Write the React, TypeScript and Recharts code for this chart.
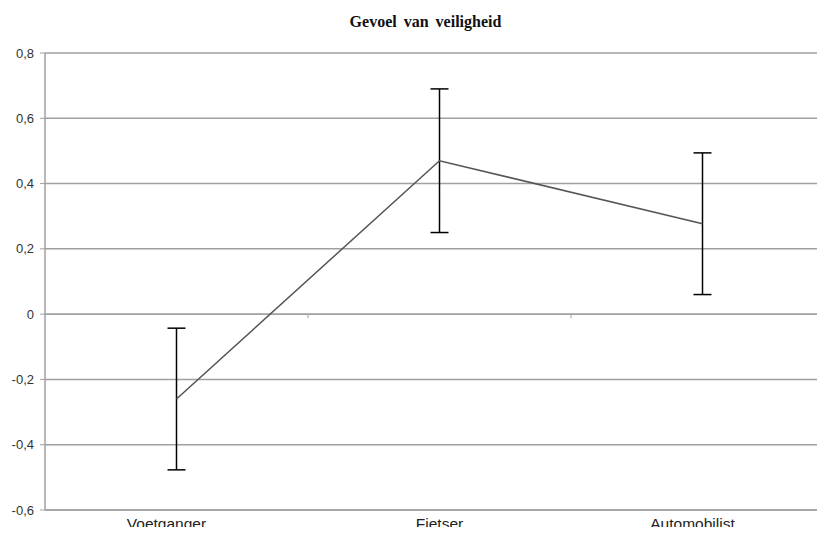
import React from 'react'
import {
  LineChart,
  Line,
  XAxis,
  YAxis,
  CartesianGrid,
  ErrorBar,
  ReferenceLine,
} from 'recharts'

const groups = ['Voetganger', 'Fietser', 'Automobilist']
const means = [-0.26, 0.47, 0.277]
const errors = [0.217, 0.22, 0.217]
const yTicks = [-0.6, -0.4, -0.2, 0, 0.2, 0.4, 0.6, 0.8]

const data = groups.map((name, i) => ({ name, mean: means[i], err: errors[i] }))

// category labels sit slightly left of their points
const labelShift = [-10, 0, -10]

const fmt = (v: number) => (Math.abs(v) < 1e-9 ? '0' : v.toFixed(1).replace('.', ','))

const CategoryTick = ({ x, y, payload, index }: any) => (
  <text
    x={x + (labelShift[index] ?? 0)}
    y={y + 11}
    textAnchor="middle"
    fill="#222"
    fontSize={15.5}
    fontFamily="Liberation Sans, Arial, sans-serif"
  >
    {payload.value}
  </text>
)

// zero line with small marks between categories
const ZeroLine = ({ x1, x2, y1 }: any) => {
  const step = (x2 - x1) / groups.length
  return (
    <g>
      <line x1={x1} x2={x2} y1={y1} y2={y1} stroke="#a0a0a0" strokeWidth={1.5} />
      {groups.slice(1).map((_, i) => (
        <line
          key={i}
          x1={x1 + step * (i + 1)}
          x2={x1 + step * (i + 1)}
          y1={y1}
          y2={y1 + 4}
          stroke="#a0a0a0"
          strokeWidth={1}
        />
      ))}
    </g>
  )
}

export default function App() {
  return (
    <div
      style={{
        position: 'relative',
        margin: -8,
        width: 825,
        height: 535,
        overflow: 'hidden',
        background: '#fff',
      }}
    >
      <div
        style={{
          position: 'absolute',
          left: 0,
          top: 13,
          width: 851,
          textAlign: 'center',
          fontFamily: 'Liberation Serif, Times New Roman, serif',
          fontWeight: 'bold',
          fontSize: 16,
          wordSpacing: 3,
          color: '#111',
        }}
      >
        Gevoel van veiligheid
      </div>
      <LineChart
        width={845}
        height={535}
        data={data}
        margin={{ top: 53, right: 11, bottom: 0, left: 0 }}
      >
        <CartesianGrid vertical={false} stroke="#a0a0a0" strokeWidth={1.5} />
        <XAxis
          dataKey="name"
          scale="band"
          height={25}
          tickLine={false}
          axisLine={{ stroke: '#a0a0a0', strokeWidth: 1.5 }}
          tick={<CategoryTick />}
          interval={0}
        />
        <YAxis
          width={45}
          domain={[-0.6, 0.8]}
          ticks={yTicks}
          tickFormatter={fmt}
          tickSize={5}
          tickMargin={6}
          axisLine={{ stroke: '#a0a0a0', strokeWidth: 1.5 }}
          tickLine={{ stroke: '#a0a0a0' }}
          tick={{ fill: '#333', fontSize: 13, fontFamily: 'Liberation Sans, Arial, sans-serif' }}
        />
        <ReferenceLine y={0} shape={<ZeroLine />} />
        <Line
          dataKey="mean"
          stroke="#555"
          strokeWidth={1.5}
          dot={false}
          activeDot={false}
          isAnimationActive={false}
        >
          <ErrorBar dataKey="err" width={9} stroke="#000" strokeWidth={1.5} isAnimationActive={false} />
        </Line>
      </LineChart>
    </div>
  )
}
